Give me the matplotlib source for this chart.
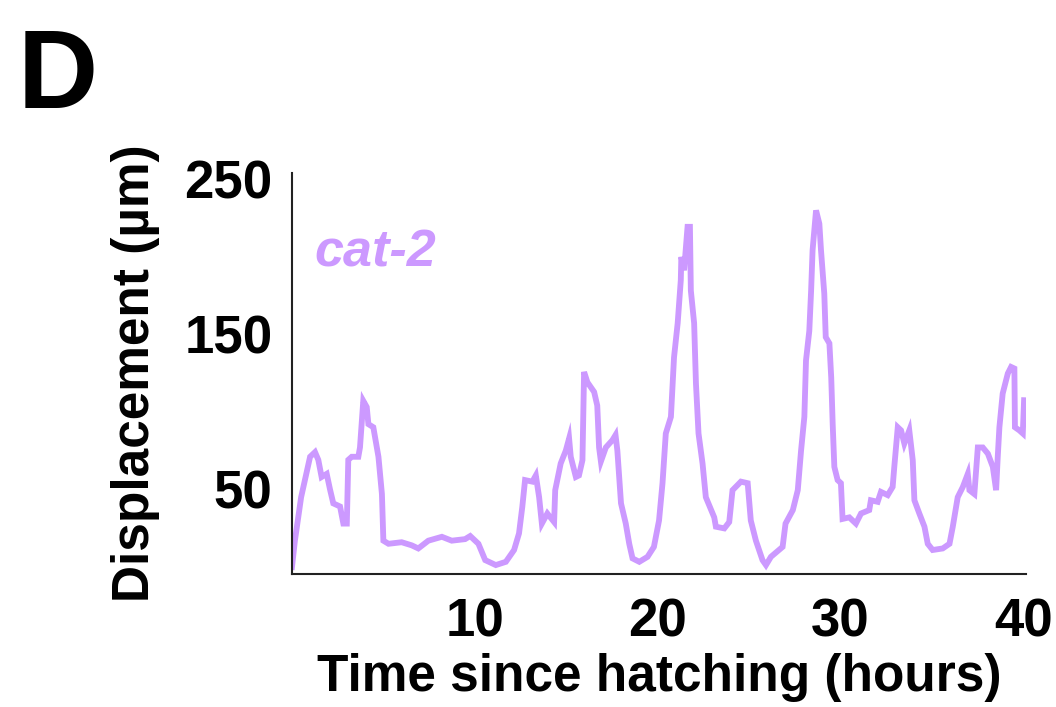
import numpy as np
import matplotlib.pyplot as plt

plt.close("all")

"""
cat-2 displacement trace, values read off the figure
"""

time_h = [0.0, 0.16, 0.5, 0.99, 1.26, 1.44, 1.62, 1.9, 2.08, 2.26, 2.63, 2.81, 3.0,
          3.08, 3.27, 3.63, 3.72, 3.9, 4.09, 4.18, 4.45, 4.73, 4.92, 5.0, 5.28, 6.0,
          6.55, 6.91, 7.46, 8.2, 8.74, 9.47, 9.75, 10.2, 10.57, 11.15, 11.7, 12.15,
          12.42, 12.6, 12.75, 13.15, 13.34, 13.52, 13.67, 13.97, 14.34, 14.4, 14.7,
          14.98, 15.16, 15.25, 15.53, 15.7, 15.89, 15.98, 16.16, 16.53, 16.7, 16.8,
          16.9, 17.17, 17.53, 17.7, 17.8, 18.0, 18.26, 18.45, 18.63, 19.0, 19.45,
          19.8, 20.08, 20.27, 20.45, 20.73, 20.9, 21.1, 21.27, 21.3, 21.45, 21.64,
          21.77, 21.82, 22.0, 22.1, 22.24, 22.46, 22.64, 23.1, 23.19, 23.65, 23.92,
          24.1, 24.56, 24.93, 25.1, 25.38, 25.74, 25.93, 26.2, 26.84, 27.0, 27.4,
          27.67, 27.85, 28.03, 28.12, 28.3, 28.4, 28.48, 28.67, 28.85, 28.94, 29.12,
          29.2, 29.4, 29.5, 29.58, 29.67, 29.85, 30.03, 30.12, 30.49, 30.85, 31.13,
          31.58, 31.67, 32.04, 32.22, 32.59, 32.86, 32.95, 33.14, 33.32, 33.5, 33.77,
          33.96, 34.05, 34.32, 34.6, 34.78, 35.05, 35.6, 35.97, 36.15, 36.42, 36.7,
          36.97, 37.06, 37.33, 37.52, 37.79, 38.07, 38.34, 38.52, 38.61, 38.7, 38.88,
          39.16, 39.34, 39.52, 39.55, 39.79, 39.98, 40.05]
displacement = [0, 17, 45, 71, 74, 69, 58, 60, 50, 41, 39, 28, 28,
                69, 71, 71, 77, 107, 103, 92, 90, 71, 47, 17, 15, 16,
                14, 12, 17, 19.5, 17, 18, 20, 15, 4.5, 1.3, 3.4, 11,
                21.7, 38.8, 56, 55, 59, 45, 28, 34.5, 29, 49.5, 66.7,
                75, 82.8, 71, 58, 59, 68.8, 125.6, 119, 112.7, 104, 77,
                68, 77, 81.7, 85, 75, 41, 28, 15, 5.6, 3.4, 6.6,
                13, 30, 54, 86, 96.7, 135, 157, 184.6, 199.6, 191, 219,
                219, 178, 157, 118, 86, 66.7, 45, 32, 26, 24.9, 29,
                49.5, 55, 54, 30, 17, 4.5, 1.3, 6.6, 13, 28, 36.7,
                49.5, 75, 96.7, 133, 152, 178, 204, 229.6, 221, 204, 176,
                148, 144, 122, 92, 64.5, 56, 54, 31, 32, 28, 34.5,
                36.7, 43, 42, 48.4, 46.3, 51.6, 64.5, 90, 88, 79.5, 88,
                68.8, 43, 34.5, 26, 15, 11, 12, 15, 26, 45, 51.6,
                60, 49.5, 47, 77, 77, 73, 64.5, 49.5, 71, 90, 111.7,
                124.6, 128.8, 127.8, 90, 88, 86, 107.4]

xticks = [10, 20, 30, 40]
yticks = [50, 150, 250]

line_color = "#cc99ff"

plt.rcParams['font.family'] = ['Liberation Sans', 'DejaVu Sans']

fig = plt.figure(figsize=(10.56, 7.07), dpi=100)
ax = fig.add_axes([0.2765, 0.188, 0.695, 0.567])

ax.plot(time_h, displacement, color=line_color, lw=4.2, solid_joinstyle="miter")

ax.set_xlim(0, 40.15)
ax.set_ylim(-4.5, 253.5)
ax.set_xticks(xticks)
ax.set_yticks(yticks)
ax.tick_params(length=0, pad=14)
ax.tick_params(axis="x", pad=17)
for lab in ax.get_xticklabels() + ax.get_yticklabels():
    lab.set_fontweight("bold")
    lab.set_fontsize(38)

for s in ["top", "right"]:
    ax.spines[s].set_visible(False)
for s in ["left", "bottom"]:
    ax.spines[s].set_linewidth(1.5)
    ax.spines[s].set_color("#222222")

ax.set_xlabel("Time since hatching (hours)", fontsize=37, fontweight="bold", labelpad=4)
ax.set_ylabel("Displacement (µm)", fontsize=37, fontweight="bold")
ax.yaxis.set_label_coords(-0.18, 0.5)

ax.text(0.03, 0.768, "cat-2", transform=ax.transAxes, color=line_color,
        fontsize=37.5, fontweight="bold", fontstyle="italic", va="baseline")

fig.text(0.017, 0.847, "D", fontsize=80, fontweight="bold", va="baseline")

plt.savefig("out.png", dpi=100)
